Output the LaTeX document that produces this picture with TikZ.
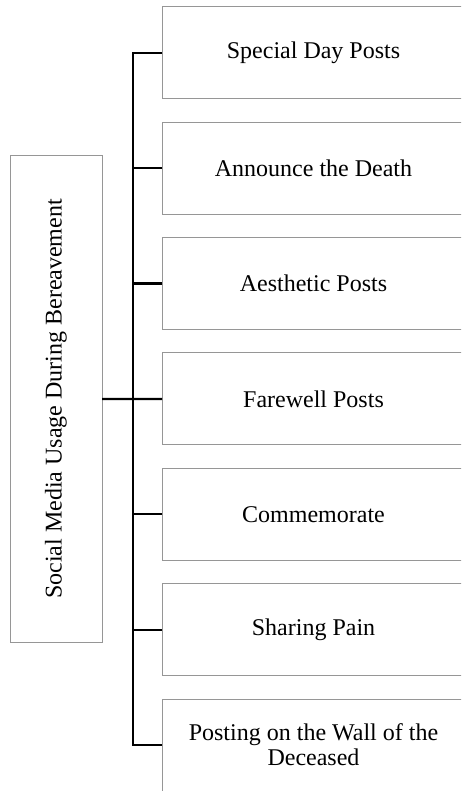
\documentclass[tikz,border=0pt]{standalone}
\usepackage{fontspec}
\setmainfont{Liberation Serif}
\definecolor{boxgray}{RGB}{150,150,150}
\tikzset{
  item/.style={minimum width=151.5pt, minimum height=46pt, inner sep=0pt, outer sep=0pt, align=center, font=\fontsize{12}{12.5}\selectfont},
  frame/.style={draw=boxgray, line width=0.5pt},
  root/.style={draw=boxgray, line width=0.5pt, rotate=90, minimum width=243pt, minimum height=46pt, inner sep=0pt, outer sep=0pt, font=\fontsize{12}{12.5}\selectfont},
  link/.style={line width=1.1pt, black}
}
\begin{document}
\begin{tikzpicture}[x=0.5pt,y=-0.5pt]
\useasboundingbox (0,0) rectangle (461,791);
\clip (0,0) rectangle (461,791);
\node[root] (usage) at (56,399) {Social Media Usage During Bereavement};
\node[item] (special) at (313.5,52.7) {Special Day Posts};
\node[item] (announce) at (313.5,168.1) {Announce the Death};
\node[item] (aesthetic) at (313.5,283.5) {Aesthetic Posts};
\node[item] (farewell) at (313.5,398.9) {Farewell Posts};
\node[item] (commemorate) at (313.5,514.3) {Commemorate};
\node[item] (pain) at (313.5,629.7) {Sharing Pain};
\node[item] (wall) at (313.5,745.1) {Posting on the Wall of the\\Deceased};
% frames run off the right edge
\draw[frame] (special.north west) rectangle ++(340,92);
\draw[frame] (announce.north west) rectangle ++(340,92);
\draw[frame] (aesthetic.north west) rectangle ++(340,92);
\draw[frame] (farewell.north west) rectangle ++(340,92);
\draw[frame] (commemorate.north west) rectangle ++(340,92);
\draw[frame] (pain.north west) rectangle ++(340,92);
\draw[frame] (wall.north west) rectangle ++(340,92);
\draw[link] (special.west) -- ++(-29,0) |- (wall.west);
\draw[link] (usage.south) -- (farewell.west);
\draw[link] (announce.west) -- ++(-29,0);
\draw[link] (aesthetic.west) -- ++(-29,0);
\draw[link] (commemorate.west) -- ++(-29,0);
\draw[link] (pain.west) -- ++(-29,0);
\end{tikzpicture}
\end{document}
